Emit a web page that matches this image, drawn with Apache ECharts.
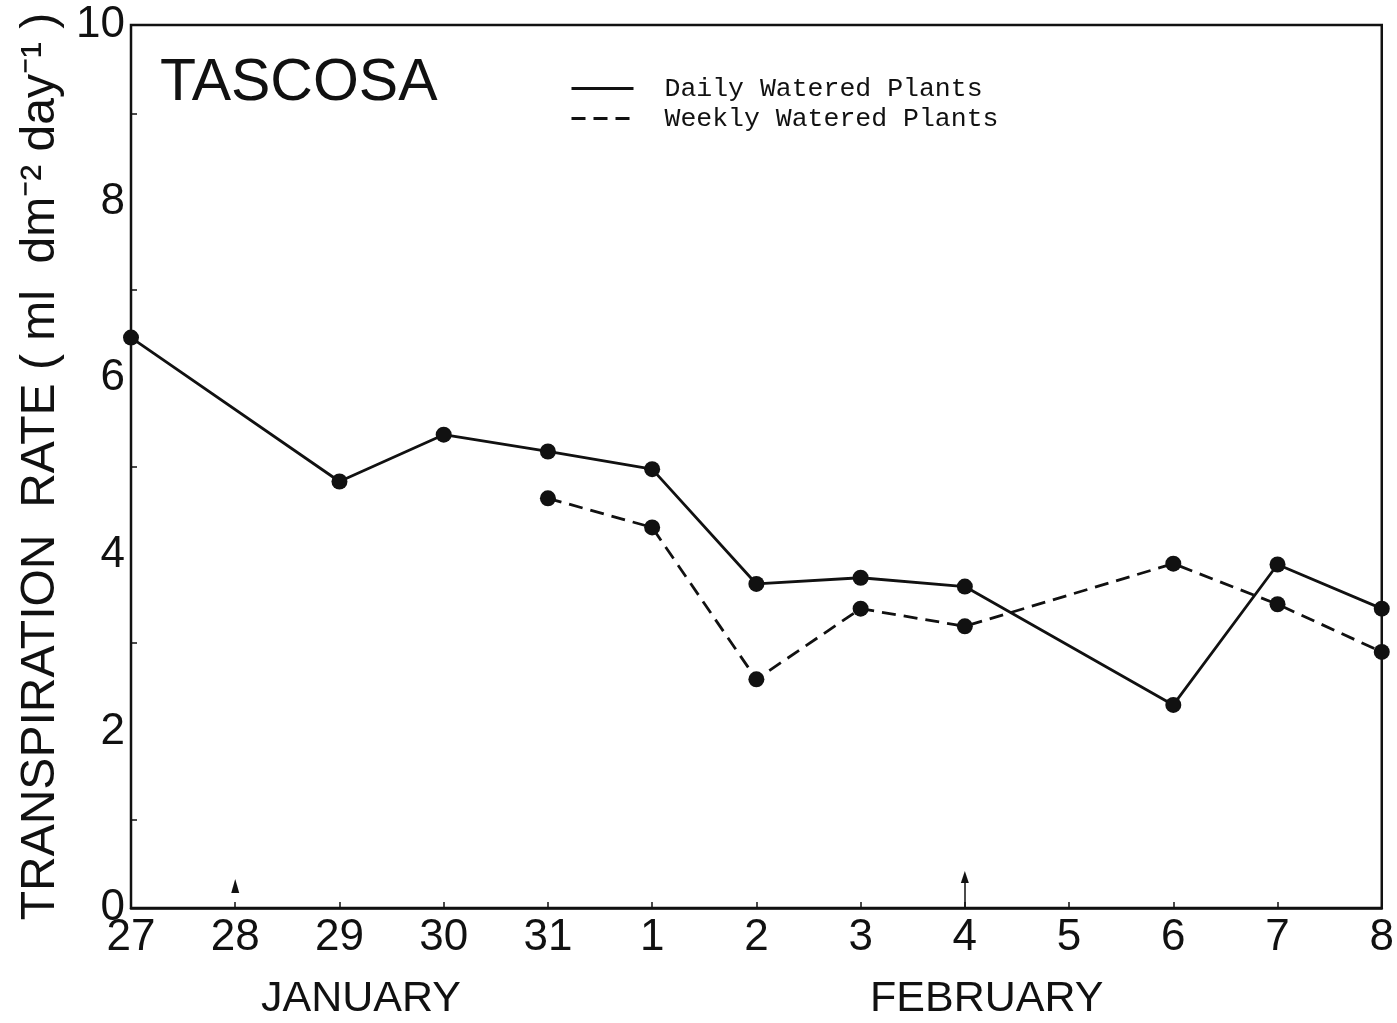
<!DOCTYPE html>
<html>
<head>
<meta charset="utf-8">
<script src="https://cdn.jsdelivr.net/npm/echarts@6/dist/echarts.min.js"></script>
<style>
  html, body { margin: 0; padding: 0; background: #fff; }
  #chart { width: 1397px; height: 1023px; }
</style>
</head>
<body>
<div id="chart"></div>
<script>
// days of observation (Jan 27 .. Feb 8)
const days = ['27', '28', '29', '30', '31', '1', '2', '3', '4', '5', '6', '7', '8'];
const dailyWatered = [6.46, null, 4.83, 5.36, 5.17, 4.97, 3.67, 3.74, 3.64, null, 2.30, 3.89, 3.39];
const weeklyWatered = [null, null, null, null, 4.64, 4.31, 2.59, 3.39, 3.19, null, 3.90, 3.44, 2.90];
// watering days marked with arrows
const wateringDays = ['28', '4'];
const months = ['JANUARY', 'FEBRUARY'];

const chart = echarts.init(document.getElementById('chart'));
const labelFont = 'Liberation Sans';

chart.setOption({
  backgroundColor: '#fff',
  animation: false,
  title: {
    text: 'TASCOSA',
    left: 155,
    top: 49,
    textStyle: { fontFamily: labelFont, fontWeight: 'normal', fontSize: 59, color: '#111' }
  },
  legend: {
    orient: 'vertical',
    left: 565,
    top: 70,
    itemWidth: 62,
    itemHeight: 14,
    itemGap: 3,
    itemStyle: { opacity: 0 },
    lineStyle: { width: 3 },
    textStyle: { fontFamily: 'Liberation Mono', fontSize: 26.5, color: '#111', padding: [0, 0, 0, 26] },
    data: ['Daily Watered Plants', 'Weekly Watered Plants']
  },
  grid: {
    left: 131,
    right: 15,
    top: 25,
    bottom: 115,
    show: true,
    borderColor: '#111',
    borderWidth: 2.5,
    containLabel: false
  },
  xAxis: {
    type: 'category',
    data: days,
    boundaryGap: false,
    axisLine: { lineStyle: { color: '#111', width: 2.5 } },
    axisTick: { inside: true, length: 6, lineStyle: { color: '#111', width: 1.5 } },
    axisLabel: { fontFamily: labelFont, fontSize: 44, color: '#111', margin: 8 },
    splitLine: { show: false }
  },
  yAxis: {
    type: 'value',
    min: 0,
    max: 10,
    interval: 2,
    name: 'TRANSPIRATION  RATE ( ml  dm⁻² day⁻¹ )',
    nameLocation: 'middle',
    nameGap: 65,
    nameTextStyle: { fontFamily: labelFont, fontSize: 48, color: '#111' },
    axisLine: { lineStyle: { color: '#111', width: 2.5 } },
    axisTick: { inside: true, length: 6, lineStyle: { color: '#111', width: 1.5 } },
    minorTick: { show: true, splitNumber: 2, length: 6, lineStyle: { color: '#111', width: 1.5 } },
    axisLabel: { fontFamily: labelFont, fontSize: 44, color: '#111', margin: 6 },
    splitLine: { show: false }
  },
  graphic: [
    {
      type: 'text', left: 261, top: 978,
      style: { text: months[0], font: '43px "Liberation Sans"', fill: '#111' }
    },
    {
      type: 'text', left: 870, top: 978,
      style: { text: months[1], font: '43px "Liberation Sans"', fill: '#111' }
    }
  ],
  series: [
    {
      name: 'Daily Watered Plants',
      type: 'line',
      data: dailyWatered,
      connectNulls: true,
      symbol: 'circle',
      symbolSize: 16,
      color: '#111',
      lineStyle: { color: '#111', width: 2.8, type: 'solid' },
      itemStyle: { color: '#111' },
      markPoint: {
        symbol: 'triangle',
        symbolSize: [8, 14],
        itemStyle: { color: '#111' },
        label: { show: false },
        data: [{ coord: [wateringDays[0], 0.25] }]
      },
      markLine: {
        silent: true,
        symbol: ['none', 'triangle'],
        symbolSize: [8, 12],
        label: { show: false },
        lineStyle: { color: '#111', width: 1.5, type: 'solid' },
        data: [[{ coord: [wateringDays[1], 0] }, { coord: [wateringDays[1], 0.35] }]]
      }
    },
    {
      name: 'Weekly Watered Plants',
      type: 'line',
      data: weeklyWatered,
      connectNulls: true,
      symbol: 'circle',
      symbolSize: 16,
      color: '#111',
      lineStyle: { color: '#111', width: 2.8, type: [14, 8] },
      itemStyle: { color: '#111' }
    }
  ]
});
</script>
</body>
</html>
